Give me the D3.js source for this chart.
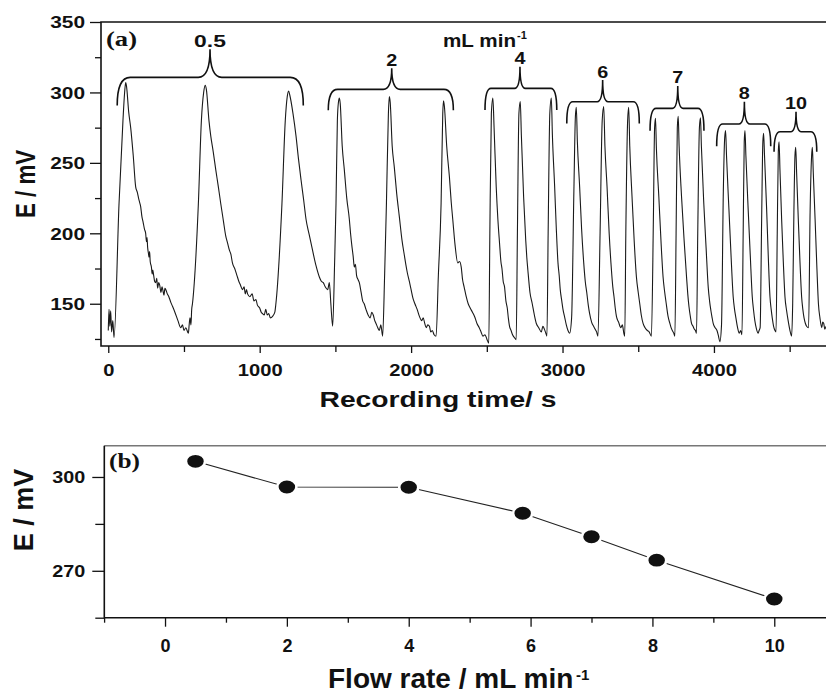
<!DOCTYPE html>
<html>
<head>
<meta charset="utf-8">
<script src="https://d3js.org/d3.v7.min.js"></script>
<style>
  body { margin: 0; background: #fff; }
  svg text { font-family: "Liberation Sans", Arial, Helvetica, sans-serif; font-weight: bold; fill: #111; }
  svg text.serif { font-family: "Liberation Serif", "Times New Roman", serif; }
  .tick line { stroke: #111; stroke-width: 1.3px; }
  .spine { stroke: #111; stroke-width: 1.6px; fill: none; }
  .trace { fill: none; stroke: #1a1a1a; stroke-width: 1.1px; }
  .brace { fill: none; stroke: #111; stroke-width: 1.6px; }
</style>
</head>
<body>
<svg id="chart" width="826" height="693"></svg>
<script>
// ---- (a) potential vs recording time: [time s, E mV] ----
var trace05 = [[0,131],[5,146],[10,134],[16,145],[22,130],[30,138],[38,126],
  [71,221],[97,280],[108,300],[115,307],[121,304],[135,286],[148,275],[165,255],[181,233],[192,229],[200,225],[207,222],[214,219],[222,212],[230,208],[239,203],[247,200],[252,194],[256,197],[260,190],[265,186],[269,183],[273,187],[277,180],[285,176],[290,171],[294,174],[300,170],[306,166],[313,165],[320,168],[326,161],[333,165],[340,163],[348,158],[355,162],[360,160],[368,156],[374,161],[380,160],[390,157],[400,155],[413,151],[425,148],[440,144],[460,138],[479,133],[490,135],[500,131],[512,133],[529,129],
  [535,136],[540,140],[546,135],[551,146],[556,150],[595,221],[615,280],[630,300],[640,305],[648,302],[665,280],[677,269],[693,258],[710,245],[727,233],[743,221],[760,209],[776,198],[788,193],[800,188],[810,185],[820,179],[835,175],[850,170],[862,166],[874,163],[886,160],[897,162],[905,157],[913,160],[920,157],[935,155],[950,157],[962,152],[975,153],[985,149],[1000,147],[1010,144],[1019,143],[1030,142],[1040,146],[1050,142],[1060,143],[1070,140],[1085,141],[1100,144],[1107,150],
  [1147,221],[1169,280],[1182,297],[1191,301],[1199,298],[1220,285],[1240,269],[1256,253],[1273,238],[1290,224],[1306,210],[1327,199],[1349,188],[1372,177],[1394,169],[1407,166],[1420,165],[1433,162],[1449,160],[1460,165],[1470,150],[1482,134]];
var trace2 = [[1495,180],[1504,221],[1513,280],[1520,293],[1526,296],[1532,292],[1545,262],[1559,245],[1575,225],[1592,210],[1600,200],[1610,190],[1617,184],[1625,176],[1632,178],[1640,170],[1650,167],[1658,165],[1670,158],[1680,152],[1690,150],[1702,146],[1716,142],[1730,140],[1740,144],[1750,142],[1760,138],[1768,136],[1780,133],[1790,131],[1800,135],[1812,127],
  [1825,170],[1837,221],[1850,285],[1856,297],[1862,293],[1875,262],[1889,247],[1905,228],[1922,212],[1940,195],[1956,184],[1965,178],[1975,172],[1988,166],[2000,160],[2012,154],[2025,150],[2040,146],[2055,141],[2070,138],[2080,140],[2090,136],[2100,133],[2110,135],[2121,134],[2130,130],[2140,131],[2152,128],[2165,127],
  [2180,170],[2198,221],[2209,285],[2214,294],[2220,290],[2235,262],[2253,240],[2265,222],[2275,210],[2290,192],[2308,179],[2320,180],[2331,176],[2340,167],[2350,162],[2364,155],[2377,150],[2390,147],[2405,144],[2419,141],[2435,136],[2450,133],[2462,130],[2474,127],[2488,128],[2500,125],[2513,122]];
var trace4 = [[2520,200],[2530,285],[2540,296],[2548,275],[2562,233],[2573,210],[2584,193],[2593,180],[2600,175],[2608,166],[2617,162],[2626,152],[2635,147],[2642,140],[2650,134],[2660,131],[2670,128],[2682,126],[2694,124.5],
  [2702,200],[2712,285],[2721,293.5],[2728,270],[2743,226],[2757,195],[2764,183],[2771,174],[2785,158],[2800,150],[2814,142],[2827,136],[2843,133],[2860,130],[2870,134],[2880,132],[2890,129],[2897,127],
  [2905,200],[2916,285],[2926,296],[2933,270],[2948,233],[2959,203],[2970,179],[2978,170],[2985,160],[2995,152],[3003,146],[3015,140],[3025,135],[3036,131],[3047,129]];
var trace6 = [[3060,140],[3075,230],[3085,283],[3091,289.5],[3098,265],[3113,233],[3126,203],[3140,179],[3150,166],[3160,158],[3170,149],[3179,143],[3192,137],[3205,134],[3215,132],[3225,130],[3234,127],
  [3248,200],[3262,280],[3272,290],[3280,262],[3294,233],[3308,200],[3323,174],[3332,162],[3340,155],[3348,147],[3356,141],[3370,137],[3385,133],[3395,135],[3405,129],[3411,127],
  [3418,200],[3430,280],[3437,289.5],[3444,262],[3459,226],[3473,195],[3488,169],[3500,158],[3510,150],[3520,142],[3532,136],[3545,133],[3560,131],[3572,130],[3587,127]];
var trace7 = [[3600,210],[3608,275],[3614,281.7],[3620,260],[3636,226],[3650,195],[3664,169],[3675,158],[3685,150],[3697,141],[3709,136],[3717,133],[3725,131],[3735,129],[3742,127],
  [3750,200],[3758,275],[3764,283],[3770,262],[3786,226],[3803,195],[3819,169],[3827,157],[3835,148],[3844,141],[3852,136],[3862,134],[3870,132],[3878,131],[3885,129],
  [3893,200],[3904,275],[3911,282],[3917,262],[3933,221],[3948,190],[3962,162],[3971,152],[3980,145],[3988,140],[3995,136],[4008,133],[4020,131],[4030,127],[4039,123]];
var trace8 = [[4050,135],[4062,230],[4071,268],[4077,273],[4083,255],[4099,217],[4113,184],[4127,155],[4136,146],[4145,140],[4156,133],[4167,129],[4176,131],[4185,128],
  [4193,200],[4200,265],[4205,273],[4211,255],[4226,217],[4240,184],[4253,155],[4262,145],[4270,138],[4281,132],[4292,129],[4298,131],[4305,133],
  [4315,210],[4323,265],[4328,271],[4334,255],[4348,217],[4359,183],[4370,155],[4378,146],[4385,140],[4394,134],[4403,131],[4410,130]];
var trace10 = [[4418,200],[4425,258],[4430,265],[4436,245],[4447,210],[4458,180],[4469,155],[4480,145],[4490,138],[4502,131],[4513,127],[4520,150],
  [4528,215],[4535,255],[4540,261],[4546,243],[4557,210],[4568,180],[4579,155],[4587,146],[4595,140],[4604,136],[4612,134],[4625,133],
  [4635,215],[4645,255],[4650,261],[4656,243],[4668,210],[4680,175],[4690,150],[4700,140],[4712,133],[4718,137],[4725,136],[4732,132],[4740,134]];

// flow-rate braces over the peaks (time s / E mV)
var braceLabels = ["0.5", "2", "4", "6", "7", "8", "10"];
var braceFrom  = [59, 1453, 2488, 3028, 3578, 4018, 4397];
var braceTo    = [1288, 2279, 2962, 3507, 3934, 4375, 4679];
var braceMid   = [672, 1872, 2719, 3265, 3761, 4201, 4542];
var braceLevel = [310.7, 302.2, 302.9, 293.4, 288.7, 277.6, 272.1];
var braceTip   = [330.6, 317.1, 318.3, 308.8, 304.6, 293.4, 286.3];

var timeTicks = [0, 1000, 2000, 3000, 4000];
var timeMinor = [500, 1500, 2500, 3500, 4500];
var eTicksA = [150, 200, 250, 300, 350];
var eMinorA = [125, 175, 225, 275, 325];

// ---- (b) peak potential vs flow rate ----
var flowRate = [0.5, 2, 4, 5.87, 7, 8.07, 10];
var peakE = [305.0, 296.8, 296.7, 288.4, 280.9, 273.4, 261.0];
var flowTicks = [0, 2, 4, 6, 8, 10];
var flowMinor = [-1, 1, 3, 5, 7, 9];
var eTicksB = [270, 300];
var eMinorB = [255, 285];

var svg = d3.select("#chart");

// stretch tick labels to the wide lettering of the original
function stretch(sel, perChar) {
  sel.each(function () {
    var t = d3.select(this);
    t.attr("textLength", t.text().length * perChar).attr("lengthAdjust", "spacingAndGlyphs");
  });
}

// ******************** panel (a) ********************
var xA = d3.scaleLinear().domain([-48, 4740]).range([101, 826]);
var yA = d3.scaleLinear().domain([120, 350]).range([346, 22]);

var gA = svg.append("g");

// y axis, major + minor
var yAxA = gA.append("g").attr("transform", "translate(101,0)")
  .call(d3.axisLeft(yA).tickValues(eTicksA).tickSize(11).tickPadding(5));
gA.append("g").attr("transform", "translate(101,0)")
  .call(d3.axisLeft(yA).tickValues(eMinorA).tickSize(6).tickFormat(""));
yAxA.selectAll("text").style("font-size", "16px").attr("dy", "0.36em").call(stretch, 11.6);

// x axis
var xAxA = gA.append("g").attr("transform", "translate(0,346)")
  .call(d3.axisBottom(xA).tickValues(timeTicks).tickSize(7).tickFormat(d3.format("d")));
gA.append("g").attr("transform", "translate(0,346)")
  .call(d3.axisBottom(xA).tickValues(timeMinor).tickSize(6).tickFormat(""));
xAxA.selectAll("text").style("font-size", "17px").attr("y", 30).attr("dy", 0).call(stretch, 11.2);
gA.selectAll(".domain").remove();

// frame (left, top, bottom)
gA.append("path").attr("class", "spine").attr("d", "M826,22H101V346H826");

// signal
var line = d3.line().x(function (d) { return xA(d[0]); }).y(function (d) { return yA(d[1]); })
  .curve(d3.curveMonotoneX);
var trace = [].concat(trace05, trace2, trace4, trace6, trace7, trace8, trace10);
gA.append("path").attr("class", "trace").attr("d", line(trace));

// braces with flow-rate labels
braceLabels.forEach(function (lab, i) {
  var x0 = xA(braceFrom[i]), x1 = xA(braceTo[i]), cx = xA(braceMid[i]);
  var yH = yA(braceLevel[i]), yT = yA(braceTip[i]);
  var drop = yH - yT;
  var r = Math.max(6, Math.min(13, (x1 - x0) * 0.075)), rc = r * 0.9;
  var p = "M" + x0 + "," + (yH + drop) +
    " Q" + x0 + "," + yH + " " + (x0 + r) + "," + yH +
    " L" + (cx - rc) + "," + yH +
    " Q" + cx + "," + yH + " " + cx + "," + yT +
    " Q" + cx + "," + yH + " " + (cx + rc) + "," + yH +
    " L" + (x1 - r) + "," + yH +
    " Q" + x1 + "," + yH + " " + x1 + "," + (yH + drop);
  gA.append("path").attr("class", "brace").attr("d", p);
  gA.append("text").attr("x", cx).attr("y", yT - 2.5).attr("text-anchor", "middle")
    .style("font-size", "17px").text(lab)
    .call(stretch, lab.length > 2 ? 10.6 : 11);
});

gA.append("text").attr("x", 443).attr("y", 46.7).style("font-size", "18px")
  .attr("textLength", 73).attr("lengthAdjust", "spacingAndGlyphs").text("mL min");
gA.append("text").attr("x", 517).attr("y", 39).style("font-size", "11px").text("-1");

gA.append("text").attr("class", "serif").attr("x", 106).attr("y", 46)
  .style("font-size", "20px").attr("textLength", 31).attr("lengthAdjust", "spacingAndGlyphs").text("(a)");

// axis titles
gA.append("text").attr("transform", "translate(35,184) rotate(-90)").attr("text-anchor", "middle")
  .style("font-size", "28px").attr("textLength", 68).attr("lengthAdjust", "spacingAndGlyphs").text("E / mV");
gA.append("text").attr("x", 438).attr("y", 407).attr("text-anchor", "middle")
  .style("font-size", "22px").attr("textLength", 237).attr("lengthAdjust", "spacingAndGlyphs")
  .text("Recording time/ s");

// ******************** panel (b) ********************
var xB = d3.scaleLinear().domain([-1, 11]).range([104.1, 835.2]);
var yB = d3.scaleLinear().domain([255, 310]).range([617.7, 445.7]);

var gB = svg.append("g");

var yAxB = gB.append("g").attr("transform", "translate(104.3,0)")
  .call(d3.axisLeft(yB).tickValues(eTicksB).tickSize(12).tickPadding(7));
gB.append("g").attr("transform", "translate(104.3,0)")
  .call(d3.axisLeft(yB).tickValues(eMinorB).tickSize(9).tickFormat(""));
yAxB.selectAll("text").style("font-size", "16px").attr("dy", "0.36em").call(stretch, 11);

var xAxB = gB.append("g").attr("transform", "translate(0,617.7)")
  .call(d3.axisBottom(xB).tickValues(flowTicks).tickSize(9));
gB.append("g").attr("transform", "translate(0,617.7)")
  .call(d3.axisBottom(xB).tickValues(flowMinor).tickSize(5).tickFormat(""));
xAxB.selectAll("text").style("font-size", "18px").attr("y", 34).attr("dy", 0);
gB.selectAll(".domain").remove();

gB.append("line").attr("x1", 104.3).attr("x2", 826).attr("y1", 445.7).attr("y2", 445.7)
  .attr("stroke", "#777").attr("stroke-width", 1.6);
gB.append("path").attr("class", "spine").attr("d", "M104.3,445.7V617.7H826").attr("stroke-width", 2);

var pts = flowRate.map(function (f, i) { return [f, peakE[i]]; });
gB.append("path").attr("fill", "none").attr("stroke", "#222").attr("stroke-width", 1.1)
  .attr("d", d3.line().x(function (d) { return xB(d[0]); }).y(function (d) { return yB(d[1]); })(pts));
gB.selectAll("ellipse.pt").data(pts).enter().append("ellipse").attr("class", "pt")
  .attr("cx", function (d) { return xB(d[0]); }).attr("cy", function (d) { return yB(d[1]); })
  .attr("rx", 9.5).attr("ry", 7.7).attr("fill", "#111").attr("stroke", "#fff").attr("stroke-width", 2.5);

gB.append("text").attr("class", "serif").attr("x", 109).attr("y", 468)
  .style("font-size", "20px").attr("textLength", 31).attr("lengthAdjust", "spacingAndGlyphs").text("(b)");

gB.append("text").attr("transform", "translate(33,510) rotate(-90)").attr("text-anchor", "middle")
  .style("font-size", "27px").text("E / mV");
gB.append("text").attr("x", 328).attr("y", 688).style("font-size", "28px").text("Flow rate / mL min");
gB.append("text").attr("x", 576).attr("y", 680).style("font-size", "15px").text("-1");
</script>
</body>
</html>
